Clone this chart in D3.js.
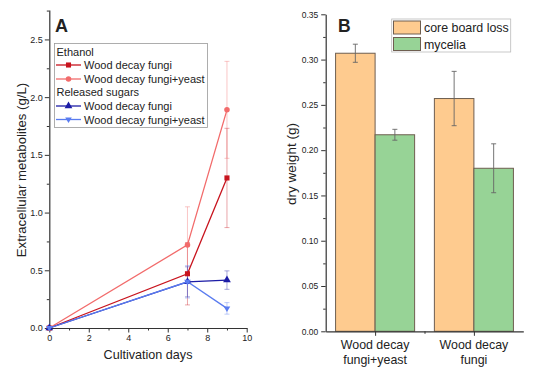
<!DOCTYPE html>
<html><head><meta charset="utf-8">
<script src="https://cdn.jsdelivr.net/npm/d3@7"></script>
<style>body{margin:0;background:#fff}svg{display:block}text{font-family:"Liberation Sans",Arial,sans-serif;fill:#222}</style>
</head><body><svg id="c" width="560" height="374"></svg>
<script>
// ---- Panel A data ----
const days = [0, 7, 9];
const ethanolFungi = [0, 0.47, 1.30];
const ethanolFungiErr = [0, 0.27, 0.43];
const ethanolYeast = [0, 0.72, 1.89];
const ethanolYeastErr = [0, 0.33, 0.42];
const sugarFungi = [0, 0.40, 0.415];
const sugarFungiErr = [0, 0.13, 0.08];
const sugarYeast = [0, 0.40, 0.17];
const sugarYeastErr = [0, 0.14, 0.05];
const aYTicks = [0, 0.5, 1.0, 1.5, 2.0, 2.5];
const aXTicks = [0, 2, 4, 6, 8, 10];
// ---- Panel B data ----
const bCategories = ["Wood decay|fungi+yeast", "Wood decay|fungi"];
const coreBoardLoss = [0.307, 0.257];
const coreBoardLossErr = [0.010, 0.030];
const mycelia = [0.217, 0.180];
const myceliaErr = [0.006, 0.027];
const bYTicks = [0, 0.05, 0.10, 0.15, 0.20, 0.25, 0.30, 0.35];

const svg = d3.select("#c");
const axisCol = "#333";

// ================= Panel A =================
const ax = d3.scaleLinear().domain([0, 10]).range([49.3, 246.7]);
const ay = d3.scaleLinear().domain([0, 2.755]).range([328, 10]);
const gA = svg.append("g");

function styleAxis(g){
  g.selectAll("path.domain").attr("stroke", axisCol).attr("stroke-width", 1.2);
  g.selectAll(".tick line").attr("stroke", axisCol).attr("stroke-width", 1);
  g.selectAll(".tick text").attr("fill", "#222").style("font-size","9px").style("font-family",'"Liberation Sans",Arial,sans-serif');
}
// minor ticks
gA.append("g").attr("transform","translate(0,328)")
  .call(d3.axisBottom(ax).tickValues(d3.range(1,10,2)).tickSize(2.5).tickFormat("").tickSizeOuter(0))
  .call(g=>{g.select(".domain").remove(); g.selectAll("line").attr("stroke",axisCol);});
gA.append("g").attr("transform","translate(49.3,0)")
  .call(d3.axisLeft(ay).tickValues([0.25,0.75,1.25,1.75,2.25,2.75]).tickSize(2.5).tickFormat("").tickSizeOuter(0))
  .call(g=>{g.select(".domain").remove(); g.selectAll("line").attr("stroke",axisCol);});
const axB = gA.append("g").attr("transform","translate(0,328)")
  .call(d3.axisBottom(ax).tickValues(aXTicks).tickSize(4.5).tickSizeOuter(0).tickPadding(2).tickFormat(d3.format("d")));
styleAxis(axB);
const ayL = gA.append("g").attr("transform","translate(49.3,0)")
  .call(d3.axisLeft(ay).tickValues(aYTicks).tickSize(4.5).tickSizeOuter(0).tickPadding(2).tickFormat(d3.format(".1f")));
styleAxis(ayL);

gA.append("text").attr("x",148).attr("y",359).attr("text-anchor","middle").style("font-size","12.6px").text("Cultivation days");
gA.append("text").attr("transform","translate(25.5,170) rotate(-90)").attr("text-anchor","middle").style("font-size","13.2px").text("Extracellular metabolites (g/L)");
gA.append("text").attr("x",55).attr("y",32.3).style("font-size","18px").style("font-weight","bold").text("A");

const seriesA = [
  {name:"Wood decay fungi", vals:ethanolFungi, err:ethanolFungiErr, color:"#c8141e", marker:"square"},
  {name:"Wood decay fungi+yeast", vals:ethanolYeast, err:ethanolYeastErr, color:"#f26b6b", marker:"circle"},
  {name:"Wood decay fungi", vals:sugarFungi, err:sugarFungiErr, color:"#1c1ca6", marker:"triangle"},
  {name:"Wood decay fungi+yeast", vals:sugarYeast, err:sugarYeastErr, color:"#5a7cf0", marker:"triangleDown"}
];
function markerPath(type){
  if(type==="square") return d3.symbol(d3.symbolSquare, 26)();
  if(type==="circle") return d3.symbol(d3.symbolCircle, 24)();
  if(type==="triangle") return d3.symbol(d3.symbolTriangle, 26)();
  return "M-3.3,-2 L3.3,-2 L0,3.6 Z";
}
// error bars
seriesA.forEach(s=>{
  const g = gA.append("g").attr("stroke", s.color).attr("stroke-opacity",0.38).attr("stroke-width",1);
  days.forEach((d,i)=>{
    if(!s.err[i]) return;
    const x = ax(d), y1 = ay(s.vals[i]-s.err[i]), y2 = ay(s.vals[i]+s.err[i]);
    g.append("line").attr("x1",x).attr("x2",x).attr("y1",y1).attr("y2",y2);
    g.append("line").attr("x1",x-2.5).attr("x2",x+2.5).attr("y1",y1).attr("y2",y1);
    g.append("line").attr("x1",x-2.5).attr("x2",x+2.5).attr("y1",y2).attr("y2",y2);
  });
});
const line = d3.line().x((d,i)=>ax(days[i])).y(d=>ay(d));
seriesA.forEach(s=>{
  gA.append("path").attr("d", line(s.vals)).attr("fill","none").attr("stroke",s.color).attr("stroke-width",1.3);
  days.forEach((d,i)=>{
    gA.append("path").attr("d", markerPath(s.marker)).attr("transform",`translate(${ax(d)},${ay(s.vals[i])})`).attr("fill",s.color);
  });
});
// legend A
const lg = gA.append("g");
lg.append("rect").attr("x",54.5).attr("y",43.5).attr("width",153).attr("height",84).attr("fill","#fff").attr("stroke","#999").attr("stroke-width",0.8);
const legRows = [
  {text:"Ethanol", y:51.7},
  {s:seriesA[0], y:65},
  {s:seriesA[1], y:79},
  {text:"Released sugars", y:92.3},
  {s:seriesA[2], y:106},
  {s:seriesA[3], y:119.5}
];
legRows.forEach(r=>{
  if(r.text){
    lg.append("text").attr("x",56.5).attr("y",r.y+4).style("font-size","11px").text(r.text);
  } else {
    lg.append("line").attr("x1",56).attr("x2",81).attr("y1",r.y).attr("y2",r.y).attr("stroke",r.s.color).attr("stroke-width",1.3);
    lg.append("path").attr("d",markerPath(r.s.marker)).attr("transform",`translate(68.5,${r.y})`).attr("fill",r.s.color);
    lg.append("text").attr("x",84).attr("y",r.y+4).style("font-size","11px").text(r.s.name);
  }
});

// ================= Panel B =================
const bx = d3.scaleLinear().domain([0.5, 2.5]).range([325.7, 523.3]);
const by = d3.scaleLinear().domain([0, 0.35]).range([331.3, 14.3]);
const gB = svg.append("g");
const barW = 0.4;
const bSeries = [
  {name:"core board loss", vals:coreBoardLoss, err:coreBoardLossErr, color:"#fecb8f", off:-barW},
  {name:"mycelia", vals:mycelia, err:myceliaErr, color:"#97d396", off:0}
];
bSeries.forEach(s=>{
  bCategories.forEach((c,i)=>{
    const x0 = bx(i+1+s.off), x1 = bx(i+1+s.off+barW);
    gB.append("rect").attr("x",x0).attr("y",by(s.vals[i])).attr("width",x1-x0).attr("height",by(0)-by(s.vals[i]))
      .attr("fill",s.color).attr("stroke","#6e5e50").attr("stroke-width",1);
  });
});
bSeries.forEach(s=>{
  bCategories.forEach((c,i)=>{
    const x = bx(i+1+s.off+barW/2), y1 = by(s.vals[i]-s.err[i]), y2 = by(s.vals[i]+s.err[i]);
    const g = gB.append("g").attr("stroke","#666").attr("stroke-width",0.9);
    g.append("line").attr("x1",x).attr("x2",x).attr("y1",y1).attr("y2",y2);
    g.append("line").attr("x1",x-2.5).attr("x2",x+2.5).attr("y1",y1).attr("y2",y1);
    g.append("line").attr("x1",x-2.5).attr("x2",x+2.5).attr("y1",y2).attr("y2",y2);
  });
});
gB.append("g").attr("transform","translate(325.7,0)")
  .call(d3.axisLeft(by).tickValues(d3.range(0.025,0.35,0.05)).tickSize(2.5).tickFormat("").tickSizeOuter(0))
  .call(g=>{g.select(".domain").remove(); g.selectAll("line").attr("stroke",axisCol);});
gB.append("g").attr("transform","translate(0,331.3)")
  .call(d3.axisBottom(bx).tickValues([1.5]).tickSize(2.5).tickFormat("").tickSizeOuter(0))
  .call(g=>{g.select(".domain").remove(); g.selectAll("line").attr("stroke",axisCol);});
const bL = gB.append("g").attr("transform","translate(325.7,0)")
  .call(d3.axisLeft(by).tickValues(bYTicks).tickSize(4.5).tickSizeOuter(0).tickPadding(3).tickFormat(d3.format(".2f")));
styleAxis(bL); bL.selectAll(".tick text").style("font-size","8.5px");
const bBt = gB.append("g").attr("transform","translate(0,331.3)")
  .call(d3.axisBottom(bx).tickValues([1,2]).tickSize(4.5).tickSizeOuter(0).tickFormat(""));
styleAxis(bBt);
bCategories.forEach((c,i)=>{
  const parts = c.split("|");
  const t = gB.append("text").attr("text-anchor","middle").style("font-size","12.4px");
  parts.forEach((p,k)=> t.append("tspan").attr("x",bx(i+1)).attr("y",348.5+k*15).text(p));
});
gB.append("text").attr("transform","translate(296,164) rotate(-90)").attr("text-anchor","middle").style("font-size","13.5px").text("dry weight (g)");
gB.append("text").attr("x",338).attr("y",32.3).style("font-size","17.5px").style("font-weight","bold").text("B");
// legend B
const lB = gB.append("g");
lB.append("rect").attr("x",391.7).attr("y",19).attr("width",119).attr("height",33).attr("fill","#fff").attr("stroke","#bbb").attr("stroke-width",0.8);
bSeries.forEach((s,k)=>{
  const y = 21 + k*16.5;
  lB.append("rect").attr("x",393.5).attr("y",y).attr("width",27).attr("height",13).attr("fill",s.color).attr("stroke","#6e5e50").attr("stroke-width",1);
  lB.append("text").attr("x",424).attr("y",y+11).style("font-size","12.4px").text(s.name);
});
</script></body></html>
